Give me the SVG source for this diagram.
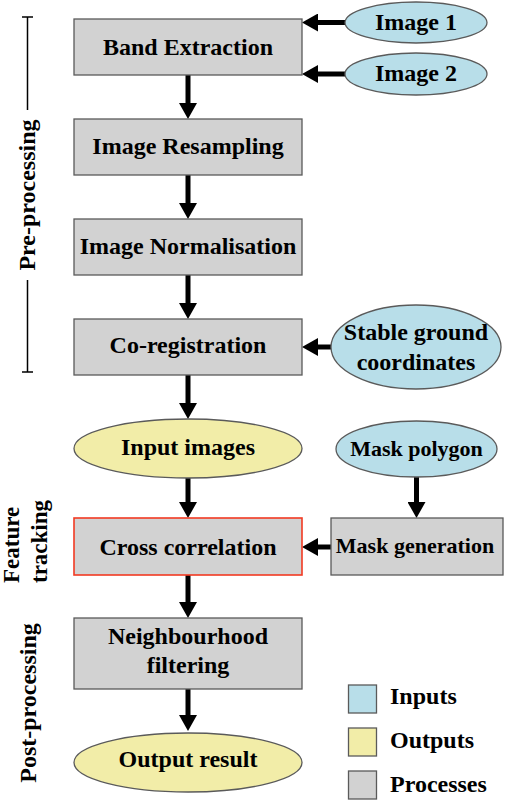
<svg xmlns="http://www.w3.org/2000/svg" width="505" height="801" viewBox="0 0 505 801" font-family="'Liberation Serif', 'Times New Roman', 'DejaVu Serif', serif" font-weight="bold">
<style>
text{font-family:'Liberation Serif','Times New Roman','DejaVu Serif',serif;font-weight:700;fill:#000;}
.t{font-size:24px;text-anchor:middle;}
.s{font-size:22px;text-anchor:middle;}
.proc{fill:#d2d2d2;stroke:#5a5a5a;stroke-width:1.3;}
.inp{fill:#b8dee9;stroke:#5a5a5a;stroke-width:1.3;}
.out{fill:#f2eda8;stroke:#5a5a5a;stroke-width:1.3;}
.conn line{stroke:#000;stroke-width:5;marker-end:url(#ah);}
.br{stroke:#000;stroke-width:1.5;fill:none;}
</style>
<defs>
<marker id="ah" markerUnits="userSpaceOnUse" markerWidth="16" markerHeight="18" refX="0" refY="9" orient="auto" viewBox="0 0 16 18">
<path d="M0,0 L16,9 L0,18 z" fill="#000"/>
</marker>
</defs>
<rect width="505" height="801" fill="#fff"/>

<g id="labels">
<path class="br" d="M22,17 H33 M27.5,17 V110 M27.5,280 V372 M22,372 H33"/>
<text class="t" transform="translate(35,195) rotate(-90)">Pre-processing</text>
<text transform="translate(19,583) rotate(-90)" style="font-size:23px">Feature</text>
<text transform="translate(47,583) rotate(-90)" style="font-size:23px">tracking</text>
<text class="t" transform="translate(36,703) rotate(-90)">Post-processing</text>
</g>

<g class="conn" id="connectors">
<line x1="345" y1="22.5" x2="318" y2="22.5"/>
<line x1="345" y1="74" x2="318" y2="74"/>
<line x1="188" y1="75" x2="188" y2="103"/>
<line x1="188" y1="175" x2="188" y2="203"/>
<line x1="188" y1="275" x2="188" y2="303"/>
<line x1="331" y1="347" x2="318" y2="347"/>
<line x1="188" y1="375" x2="188" y2="403"/>
<line x1="188" y1="478" x2="188" y2="502"/>
<line x1="416.5" y1="477" x2="416.5" y2="502"/>
<line x1="331" y1="547" x2="318" y2="547"/>
<line x1="188" y1="575" x2="188" y2="602"/>
<line x1="188" y1="689" x2="188" y2="715"/>
</g>

<g id="image1"><ellipse class="inp" cx="416" cy="22.5" rx="71" ry="20.5"/><text class="t" x="416" y="29.5">Image 1</text></g>
<g id="image2"><ellipse class="inp" cx="416" cy="74" rx="71" ry="21"/><text class="t" x="416" y="80.5">Image 2</text></g>
<g id="band"><rect class="proc" x="74" y="19" width="228" height="56"/><text class="t" x="188" y="55">Band Extraction</text></g>
<g id="resampling"><rect class="proc" x="74" y="119" width="228" height="56"/><text class="t" x="188" y="154">Image Resampling</text></g>
<g id="normalisation"><rect class="proc" x="74" y="219" width="228" height="56"/><text class="t" x="188" y="254">Image Normalisation</text></g>
<g id="coreg"><rect class="proc" x="74" y="319" width="228" height="56"/><text class="t" x="188" y="353">Co-registration</text></g>
<g id="stable"><ellipse class="inp" cx="416" cy="347" rx="85" ry="42"/><text class="t" x="416" y="340">Stable ground</text><text class="t" x="416" y="370">coordinates</text></g>
<g id="inputimages"><ellipse class="out" cx="188" cy="448.5" rx="114" ry="29.5"/><text class="t" x="188" y="455">Input images</text></g>
<g id="maskpolygon"><ellipse class="inp" cx="416.5" cy="449" rx="80.5" ry="28"/><text class="s" x="416.5" y="456">Mask polygon</text></g>
<g id="crosscorr"><rect x="74" y="518" width="228" height="57" fill="#d2d2d2" stroke="#f23a22" stroke-width="1.6"/><text class="t" x="188" y="555">Cross correlation</text></g>
<g id="maskgen"><rect class="proc" x="331" y="518" width="172" height="57"/><text class="s" x="415" y="552.5">Mask generation</text></g>
<g id="neigh"><rect class="proc" x="74" y="618" width="228" height="71"/><text class="t" x="188" y="644">Neighbourhood</text><text class="t" x="188" y="673">filtering</text></g>
<g id="output"><ellipse class="out" cx="188" cy="762.5" rx="114" ry="29.5"/><text class="t" x="188" y="767">Output result</text></g>

<g id="legend">
<rect class="inp" x="348.5" y="685" width="28" height="28"/><text style="font-size:24px" x="390" y="704">Inputs</text>
<rect class="out" x="348.5" y="728" width="28" height="28"/><text style="font-size:24px" x="390" y="748">Outputs</text>
<rect class="proc" x="348.5" y="771" width="28" height="28"/><text style="font-size:24px" x="390" y="792">Processes</text>
</g>
</svg>
